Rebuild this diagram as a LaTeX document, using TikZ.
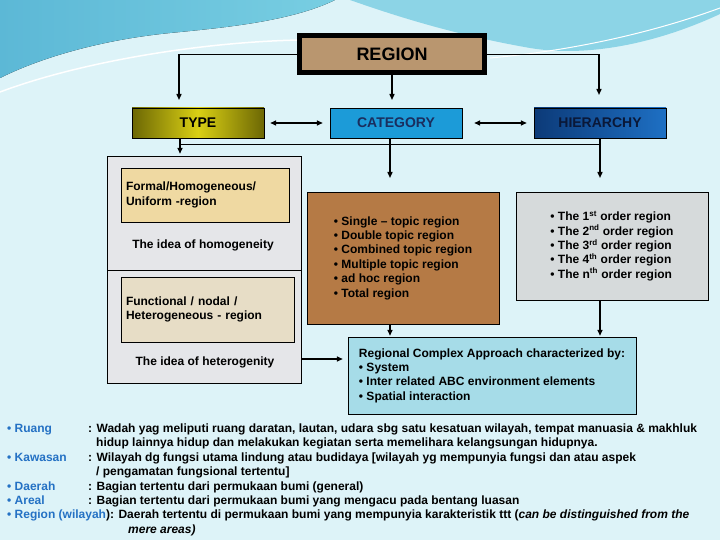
\documentclass[tikz,border=0pt]{standalone}
\usepackage{fontspec}
\setmainfont{Liberation Sans}
\usetikzlibrary{positioning,arrows.meta}
\definecolor{bgcyan}{RGB}{221,243,248}
\definecolor{wavedark}{RGB}{92,184,214}
\definecolor{wavemid}{RGB}{120,206,226}
\definecolor{wavelight}{RGB}{140,212,230}
\definecolor{regiontan}{RGB}{185,150,111}
\definecolor{typedark}{RGB}{108,103,4}
\definecolor{typelight}{RGB}{218,208,20}
\definecolor{catblue}{RGB}{28,155,216}
\definecolor{cattext}{RGB}{26,46,94}
\definecolor{hierdark}{RGB}{12,58,120}
\definecolor{hierlight}{RGB}{30,112,196}
\definecolor{hiertext}{RGB}{10,24,56}
\definecolor{marble}{RGB}{229,230,233}
\definecolor{formaltan}{RGB}{239,217,162}
\definecolor{linen}{RGB}{231,221,198}
\definecolor{wood}{RGB}{181,122,69}
\definecolor{granite}{RGB}{214,218,219}
\definecolor{water}{RGB}{166,220,232}
\definecolor{labelblue}{RGB}{36,113,196}
\newcommand{\boxfont}{\fontsize{12}{14.4}\selectfont\bfseries}

\begin{document}
\begin{tikzpicture}[x=1pt,y=-1pt,
    arr/.style={-{Triangle[length=6pt,width=5pt]}, line width=1.4pt},
    darr/.style={{Triangle[length=6pt,width=5pt]}-{Triangle[length=6pt,width=5pt]}, line width=1.4pt},
    topbox/.style={draw=black, minimum width=132pt, minimum height=30pt, inner sep=0pt,
      font=\fontsize{14}{16}\selectfont\bfseries},
    listbox/.style={draw=black, align=left, inner sep=0pt, font=\boxfont},
    paperbox/.style={draw=black, align=left, inner xsep=5pt, font=\boxfont},
    note/.style={anchor=base west, inner sep=0pt, font=\boxfont}]
  % Background
  \fill[bgcyan] (0,0) rectangle (720,540);
  \useasboundingbox (0,0) rectangle (720,540);
  \fill[left color=wavedark, right color=wavemid] (0,0) -- (335,0)
    .. controls (290,22) and (220,28) .. (170,33)
    .. controls (100,40) and (40,58) .. (0,78) -- cycle;
  \fill[wavelight] (350,0) -- (720,0) -- (720,14)
    .. controls (660,42) and (590,58) .. (530,48)
    .. controls (450,34) and (390,14) .. (350,0) -- cycle;
  \draw[white, line width=1.5pt] (0,92) .. controls (80,62) and (200,42) .. (300,40);
  \draw[white, line width=1pt] (490,58) .. controls (580,50) and (660,30) .. (720,8);

  % Top row
  \node[draw=black, line width=5pt, fill=regiontan, minimum width=185pt, minimum height=37pt,
    inner sep=0pt, font=\fontsize{18}{20}\selectfont\bfseries] (region) at (392,54.5) {REGION};
  \node[topbox, left color=typedark, right color=typedark, middle color=typelight] (type) at (198,123) {TYPE};
  \node[topbox, fill=catblue, text=cattext] (category) at (396,123) {CATEGORY};
  \node[topbox, left color=hierdark, right color=hierlight, text=hiertext] (hierarchy) at (600,123) {HIERARCHY};

  % Left column
  \node[draw=black, fill=marble, minimum width=194pt, minimum height=114pt] (marbleTop) at (204,213) {};
  \node[draw=black, fill=marble, minimum width=194pt, minimum height=113pt] (marbleBot) at (204,326.5) {};
  \node[paperbox, fill=formaltan, text width=158pt, minimum height=54pt] (formal) at (205,195)
    {Formal/Homogeneous/\\Uniform -region};
  \node[font=\boxfont] (homog) at (203,245) {The idea of homogeneity};
  \node[paperbox, fill=linen, text width=163pt, minimum height=65pt] (functional) at (207.5,309.5)
    {Functional / nodal /\\Heterogeneous - region};
  \node[font=\boxfont] (heterog) at (205,362) {The idea of heterogenity};

  % Lists
  \node[listbox, fill=wood, minimum width=192pt, minimum height=132pt] (wood) at (403,258)
    {• Single -- topic region\\• Double topic region\\• Combined topic region\\
     • Multiple topic region\\• ad hoc region\\• Total region};
  \node[listbox, fill=granite, minimum width=192pt, minimum height=108pt] (orders) at (612,246)
    {• The 1\textsuperscript{st} order region\\• The 2\textsuperscript{nd} order region\\
     • The 3\textsuperscript{rd} order region\\• The 4\textsuperscript{th} order region\\
     • The n\textsuperscript{th} order region};
  \node[listbox, fill=water, minimum width=288pt, minimum height=77pt] (water) at (492,375.5)
    {Regional Complex Approach characterized by:\\• System\\
     • Inter related ABC environment elements\\• Spatial interaction};

  % Connectors
  \coordinate (typeIn) at (179,100);
  \coordinate (catIn) at (392,100);
  \coordinate (hierIn) at (599,95);
  \draw[arr] (region.west) -| (typeIn);
  \draw[arr] (region.south) -- (catIn);
  \draw[arr] (region.east) -| (hierIn);
  \draw[darr, shorten <=6pt, shorten >=7pt] (type) -- (category);
  \draw[darr, shorten <=12pt, shorten >=7pt] (category) -- (hierarchy);

  \coordinate (jL) at (180,144);
  \coordinate (jR) at (600,144);
  \coordinate (woodIn) at (390,178);
  \coordinate (listIn) at (600,178);
  \coordinate (hetY) at (0,359);
  \draw[line width=0.8pt] (jL) -- (jR);
  \draw[arr, shorten >=2pt] (type.south -| jL) -- (marbleTop.north -| jL);
  \draw[arr] (category.south -| woodIn) -- (woodIn);
  \draw[arr] (hierarchy.south -| listIn) -- (listIn);
  \draw[arr, shorten >=1pt] (wood.south -| woodIn) -- (water.north -| woodIn);
  \draw[arr, shorten >=1pt] (orders.south -| listIn) -- (water.north -| listIn);
  \draw[arr, shorten >=5pt] (marbleBot.east |- hetY) -- (water.west |- hetY);

  % Definitions
  \node[note, text=labelblue] (ruang) at (7,432) {• Ruang};
  \node[note] (ruangTxt) at (88,432) {: Wadah yag meliputi ruang daratan, lautan, udara sbg satu kesatuan wilayah, tempat manuasia \& makhluk};
  \node[note] (ruangTxt2) at (96,446.4) {hidup lainnya hidup dan melakukan kegiatan serta memelihara kelangsungan hidupnya.};
  \node[note, text=labelblue] (kawasan) at (7,461) {• Kawasan};
  \node[note] (kawasanTxt) at (88,461) {: Wilayah dg fungsi utama lindung atau budidaya [wilayah yg mempunyia fungsi dan atau aspek};
  \node[note] (kawasanTxt2) at (96,475.4) {/ pengamatan fungsional tertentu]};
  \node[note, text=labelblue] (daerah) at (7,490) {• Daerah};
  \node[note] (daerahTxt) at (88,490) {: Bagian tertentu dari permukaan bumi (general)};
  \node[note, text=labelblue] (areal) at (7,504.4) {• Areal};
  \node[note] (arealTxt) at (88,504.4) {: Bagian tertentu dari permukaan bumi yang mengacu pada bentang luasan};
  \node[note] (wilayah) at (7,518.8) {\textcolor{labelblue}{• Region (wilayah}): Daerah tertentu di permukaan bumi yang mempunyia karakteristik ttt (\textit{can be distinguished from the}};
  \node[note, font=\boxfont\itshape] (wilayah2) at (128,533.2) {mere areas)};
\end{tikzpicture}
\end{document}
